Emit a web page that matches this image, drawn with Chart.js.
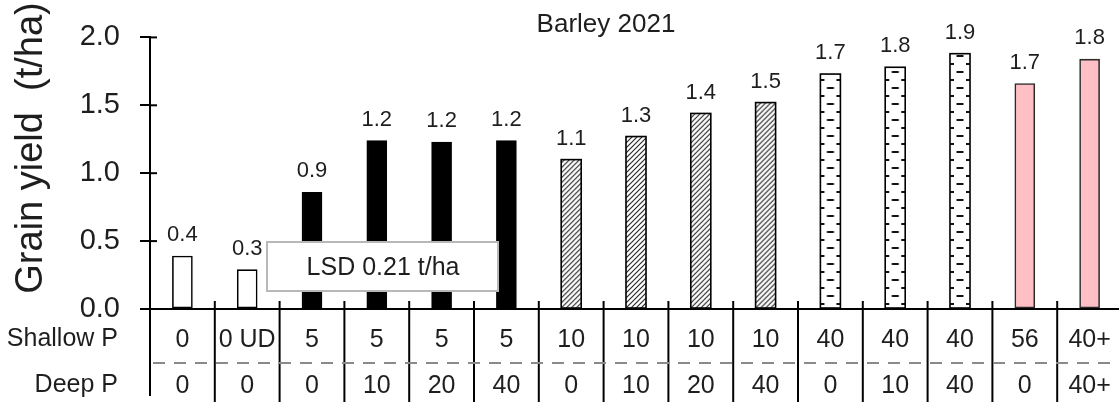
<!DOCTYPE html>
<html>
<head>
<meta charset="utf-8">
<script src="https://cdn.jsdelivr.net/npm/chart.js@4.4.0/dist/chart.umd.min.js"></script>
<style>
  html, body { margin: 0; padding: 0; background: #fff; overflow: hidden; width: 1119px; height: 402px; }
  #c { display: block; }
</style>
</head>
<body>
<canvas id="c" width="1122" height="402"></canvas>
<script>
// Phosphorus placement treatments (shallow band / deep band, kg P/ha)
const shallowP = ['0', '0 UD', '5', '5', '5', '5', '10', '10', '10', '10', '40', '40', '40', '56', '40+'];
const deepP    = ['0', '0',    '0', '10', '20', '40', '0', '10', '20', '40', '0', '10', '40', '0', '40+'];

// Barley grain yield, t/ha
const grainYield = [0.39, 0.29, 0.86, 1.24, 1.23, 1.24, 1.10, 1.27, 1.44, 1.52, 1.73, 1.78, 1.88, 1.66, 1.84];

// Fill style for each treatment group
const barFill = ['open', 'open', 'solid', 'solid', 'solid', 'solid',
                 'hatch', 'hatch', 'hatch', 'hatch', 'dash', 'dash', 'dash', 'pink', 'pink'];

const yTicks = [0, 0.5, 1.0, 1.5, 2.0];

const chartTitle = 'Barley 2021';
const yTitle = 'Grain yield  (t/ha)';
const lsdText = 'LSD 0.21 t/ha';
const rowNames = ['Shallow P', 'Deep P'];

const FONT = "'Liberation Sans', Arial, sans-serif";
const INK = '#1e1e1e';

const baseColor = {
  open: '#ffffff', solid: '#000000', hatch: '#ffffff', dash: '#ffffff', pink: '#ffbfc5'
};

// Tile for the diagonal hatching
function makeHatchTile() {
  const t = document.createElement('canvas');
  t.width = 5; t.height = 5;
  const g = t.getContext('2d');
  g.fillStyle = '#fff'; g.fillRect(0, 0, 5, 5);
  g.strokeStyle = '#2a2a2a'; g.lineWidth = 1.2;
  g.beginPath();
  g.moveTo(-1, 6); g.lineTo(6, -1);
  g.moveTo(-1, 1); g.lineTo(1, -1);
  g.moveTo(4, 6); g.lineTo(6, 4);
  g.stroke();
  return t;
}

// Tile for the staggered short dashes
function makeDashTile(w) {
  const t = document.createElement('canvas');
  t.width = w; t.height = 16;
  const g = t.getContext('2d');
  g.fillStyle = '#fff'; g.fillRect(0, 0, w, 16);
  g.fillStyle = '#111';
  g.fillRect(w / 2 - 3.5, 3, 7, 2);
  g.fillRect(0, 11, 4, 2);
  g.fillRect(w - 4, 11, 4, 2);
  return t;
}

const decorations = {
  id: 'decorations',
  afterDatasetsDraw(chart) {
    const ctx = chart.ctx;
    const meta = chart.getDatasetMeta(0);
    meta.data.forEach((bar, i) => {
      const kind = barFill[i];
      const left = bar.x - bar.width / 2;
      const top = bar.y;
      const h = bar.base - bar.y;
      if (kind === 'hatch' || kind === 'dash') {
        const tile = kind === 'hatch' ? makeHatchTile() : makeDashTile(Math.round(bar.width));
        const pat = ctx.createPattern(tile, 'repeat');
        pat.setTransform(new DOMMatrix().translate(left, bar.base));
        ctx.save();
        ctx.fillStyle = pat;
        ctx.fillRect(left, top, bar.width, h);
        ctx.strokeStyle = '#000';
        ctx.lineWidth = 1.6;
        ctx.strokeRect(left, top, bar.width, h);
        ctx.restore();
      }
    });
    // value labels above the bars
    ctx.save();
    ctx.font = '22px ' + FONT;
    ctx.fillStyle = INK;
    ctx.textAlign = 'center';
    ctx.textBaseline = 'middle';
    meta.data.forEach((bar, i) => {
      ctx.fillText(grainYield[i].toFixed(1), bar.x, bar.y - 21);
    });
    ctx.restore();
  },
  afterDraw(chart) {
    const ctx = chart.ctx;
    const x = chart.scales.x, y = chart.scales.y;
    const area = chart.chartArea;
    const axisY = y.getPixelForValue(0);
    const H = chart.height, W = chart.width;
    ctx.save();

    // y-axis extends down through the table
    ctx.strokeStyle = '#000';
    ctx.lineWidth = 2;
    ctx.beginPath();
    ctx.moveTo(area.left, axisY);
    ctx.lineTo(area.left, H - 6);
    ctx.stroke();

    // inner half of the y tick marks
    yTicks.forEach(v => {
      const py = y.getPixelForValue(v);
      ctx.beginPath();
      ctx.moveTo(area.left, py);
      ctx.lineTo(area.left + 7, py);
      ctx.stroke();
    });

    // column dividers of the treatment table
    ctx.lineWidth = 2;
    for (let i = 1; i < shallowP.length; i++) {
      const px = (x.getPixelForValue(i - 1) + x.getPixelForValue(i)) / 2;
      ctx.beginPath();
      ctx.moveTo(px, axisY - 8);
      ctx.lineTo(px, H);
      ctx.stroke();
    }

    // dashed separator between table rows
    ctx.strokeStyle = '#8a8a8a';
    ctx.lineWidth = 2.2;
    ctx.setLineDash([12, 9]);
    ctx.beginPath();
    ctx.moveTo(area.left + 3, 363);
    ctx.lineTo(W, 363);
    ctx.stroke();
    ctx.setLineDash([]);

    // row names
    ctx.fillStyle = INK;
    ctx.font = '25px ' + FONT;
    ctx.textAlign = 'right';
    ctx.textBaseline = 'middle';
    ctx.fillText(rowNames[0], 118, 339);
    ctx.fillText(rowNames[1], 118, 385);

    // chart title
    ctx.textAlign = 'center';
    ctx.font = '26px ' + FONT;
    ctx.fillText(chartTitle, 606, 25);

    // y-axis title
    ctx.save();
    ctx.translate(32, 148);
    ctx.rotate(-Math.PI / 2);
    ctx.font = '38px ' + FONT;
    ctx.fillText(yTitle, 0, 0);
    ctx.restore();

    // LSD box
    ctx.fillStyle = '#fff';
    ctx.fillRect(267, 242, 231, 49);
    ctx.strokeStyle = '#b8b8b8';
    ctx.lineWidth = 2;
    ctx.strokeRect(267, 242, 231, 49);
    ctx.fillStyle = INK;
    ctx.font = '25px ' + FONT;
    ctx.fillText(lsdText, 383, 268);

    ctx.restore();
  }
};

new Chart(document.getElementById('c'), {
  type: 'bar',
  data: {
    labels: shallowP.map((s, i) => [s, deepP[i]]),
    datasets: [{
      data: grainYield,
      backgroundColor: barFill.map(k => baseColor[k]),
      borderColor: barFill.map(k => k === 'pink' ? '#2a2a2a' : '#000'),
      borderWidth: 1.6,
      borderSkipped: false,
      barThickness: 20
    }]
  },
  options: {
    responsive: false,
    devicePixelRatio: 1,
    animation: false,
    layout: { padding: { top: 21, left: 0, right: 0, bottom: 0 } },
    plugins: { legend: { display: false }, tooltip: { enabled: false }, title: { display: false } },
    scales: {
      x: {
        type: 'category',
        offset: true,
        grid: { display: false, drawTicks: false },
        border: { display: true, color: '#000', width: 2 },
        ticks: {
          autoSkip: false, maxRotation: 0, minRotation: 0,
          padding: 8,
          color: INK,
          font: { family: FONT, size: 25, lineHeight: 1.84 }
        },
        afterFit(scale) { scale.height = 93; }
      },
      y: {
        min: 0, max: 2,
        afterBuildTicks(scale) { scale.ticks = yTicks.map(v => ({ value: v })); },
        grid: { drawOnChartArea: false, drawTicks: true, tickLength: 10, color: '#000', lineWidth: 2 },
        border: { display: true, color: '#000', width: 2 },
        ticks: {
          padding: 20,
          color: INK,
          font: { family: FONT, size: 29 },
          callback: v => Number(v).toFixed(1)
        },
        afterFit(scale) { scale.width = 150; }
      }
    }
  },
  plugins: [decorations]
});
</script>
</body>
</html>
